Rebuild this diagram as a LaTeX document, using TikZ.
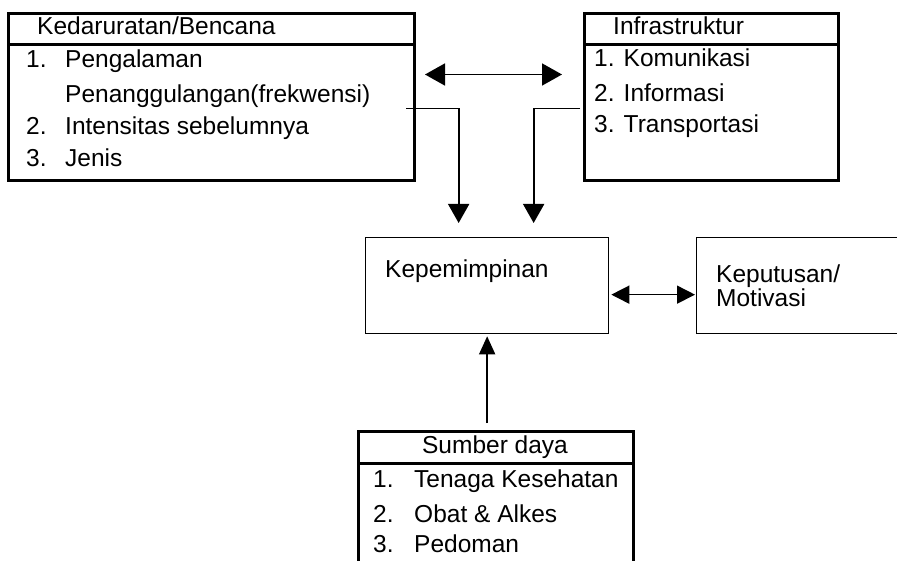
\documentclass[tikz,border=0pt]{standalone}
\usepackage{fontspec}
\setmainfont{Liberation Sans}
\usetikzlibrary{arrows.meta}
\tikzset{
  box/.style={draw, line width=3pt, inner sep=0pt, anchor=north west},
  thinbox/.style={draw, line width=1.3pt, inner sep=0pt, anchor=north west},
  txt/.style={anchor=base west, inner sep=0pt},
  arr/.style={line width=1.7pt, -{Triangle[length=19pt,width=21pt]}},
  dbl/.style={line width=1.7pt, {Triangle[length=20pt,width=22pt]}-{Triangle[length=20pt,width=22pt]}},
  dblsmall/.style={line width=1.5pt, {Triangle[length=18pt,width=18pt]}-{Triangle[length=18pt,width=18pt]}},
  arrsmall/.style={line width=1.5pt, -{Triangle[length=18pt,width=16pt]}}
}
\begin{document}
\begin{tikzpicture}[x=1pt, y=-1pt, font=\fontsize{24.5}{29}\selectfont]
		\clip (0,0) rectangle (897,561);

		% Kedaruratan/Bencana
		\node[box, minimum width=406pt, minimum height=31pt] (kedarHead) at (7,12) {};
		\node[box, minimum width=406pt, minimum height=136pt] (kedarList) at (7,43) {};
		\node[txt] (kedarT) at (37,35) {Kedaruratan/Bencana};
		\node[txt] (kedarA) at (26,68) {1.};
		\node[txt] (kedarAa) at (65,68) {Pengalaman};
		\node[txt] (kedarAb) at (65,103) {Penanggulangan(frekwensi)};
		\node[txt] (kedarB) at (26,135) {2.};
		\node[txt] (kedarBa) at (65,135) {Intensitas sebelumnya};
		\node[txt] (kedarC) at (26,167) {3.};
		\node[txt] (kedarCa) at (65,167) {Jenis};

		% Infrastruktur
		\node[box, minimum width=254pt, minimum height=31pt] (infraHead) at (583,12) {};
		\node[box, minimum width=254pt, minimum height=136pt] (infraList) at (583,43) {};
		\node[txt] (infraT) at (613,35) {Infrastruktur};
		\node[txt] (infraA) at (594,67) {1. Komunikasi};
		\node[txt] (infraB) at (594,102) {2. Informasi};
		\node[txt] (infraC) at (594,133) {3. Transportasi};

		% Kepemimpinan dan Keputusan/Motivasi
		\node[thinbox, minimum width=243pt, minimum height=96pt] (lead) at (365,237) {};
		\node[txt] (leadT) at (385,278) {Kepemimpinan};
		\node[thinbox, minimum width=220pt, minimum height=96pt] (decide) at (696,237) {};
		\node[txt] (decideA) at (716,283) {Keputusan/};
		\node[txt] (decideB) at (716,307) {Motivasi};

		% Sumber daya
		\node[box, minimum width=275pt, minimum height=32pt] (resHead) at (357,430) {};
		\node[box, minimum width=275pt, minimum height=160pt] (resList) at (357,462) {};
		\node[anchor=base, inner sep=0pt] (resT) at (495,453) {Sumber daya};
		\node[txt] (resA) at (373,487) {1.};
		\node[txt] (resAa) at (414,487) {Tenaga Kesehatan};
		\node[txt] (resB) at (373,522) {2.};
		\node[txt] (resBa) at (414,522) {Obat \& Alkes};
		\node[txt] (resC) at (373,552) {3.};
		\node[txt] (resCa) at (414,552) {Pedoman};

		% Panah
		\draw[dbl] ([xshift=9pt,yshift=38pt]kedarList.east) -- ([xshift=-21pt,yshift=38pt]infraList.west);
		\draw[arr] ([xshift=-10pt,yshift=4pt]kedarList.east) -| ([xshift=-28.5pt,yshift=14pt]lead.north);
		\draw[arr] ([xshift=-3pt,yshift=4pt]infraList.west) -| ([xshift=46.5pt,yshift=14pt]lead.north);
		\draw[dblsmall] ([xshift=2pt,yshift=-9pt]lead.east) -- ([xshift=-1pt,yshift=-9pt]decide.west);
		\draw[arrsmall] ([yshift=7pt]resHead.north -| lead.south) -- ([yshift=-2pt]lead.south);
	\end{tikzpicture}
\end{document}
